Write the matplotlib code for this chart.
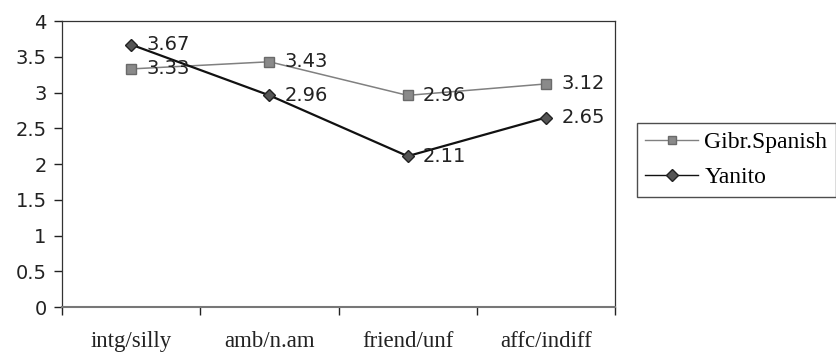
import matplotlib.pyplot as plt
from matplotlib.ticker import FixedLocator, NullFormatter

categories = ["intg/silly", "amb/n.am", "friend/unf", "affc/indiff"]
gibr_spanish = [3.33, 3.43, 2.96, 3.12]
yanito = [3.67, 2.96, 2.11, 2.65]
y_ticks = [0, 0.5, 1, 1.5, 2, 2.5, 3, 3.5, 4]

sans = "DejaVu Sans"
serif = "Liberation Serif"

fig = plt.figure(figsize=(8.37, 3.55), dpi=100)
ax = fig.add_axes([0.0741, 0.1352, 0.6607, 0.8056])

x = list(range(len(categories)))

ax.plot(x, gibr_spanish, color="#808080", linewidth=1.1, marker="s",
        markersize=6.5, markerfacecolor="#8a8a8a", markeredgecolor="#6a6a6a",
        label="Gibr.Spanish", zorder=2)
ax.plot(x, yanito, color="#111111", linewidth=1.6, marker="D",
        markersize=6.5, markerfacecolor="#555555", markeredgecolor="#222222",
        label="Yanito", zorder=3)

# data labels, right of each marker
for xi, v in zip(x, gibr_spanish):
    ax.annotate(f"{v:.2f}", (xi, v), xytext=(11, 0), textcoords="offset points",
                va="center", ha="left", fontsize=14, family=sans, color="#222222")
for xi, v in zip(x, yanito):
    ax.annotate(f"{v:.2f}", (xi, v), xytext=(11, 0), textcoords="offset points",
                va="center", ha="left", fontsize=14, family=sans, color="#222222")

ax.set_xlim(-0.5, len(categories) - 0.5)
ax.set_ylim(0, 4)

ax.set_yticks(y_ticks)
ax.set_yticklabels([f"{t:g}" for t in y_ticks], family=sans, fontsize=14)
ax.tick_params(axis="y", direction="out", length=6, width=1, pad=5, colors="#222222")

# category boundaries get the ticks, centres get the labels
ax.xaxis.set_major_locator(FixedLocator([i - 0.5 for i in range(len(categories) + 1)]))
ax.xaxis.set_major_formatter(NullFormatter())
ax.set_xticks(x, minor=True)
ax.set_xticklabels(categories, minor=True, family=serif, fontsize=16.5)
ax.tick_params(axis="x", which="major", direction="out", length=6, width=1, colors="#222222")
ax.tick_params(axis="x", which="minor", length=0, pad=17, colors="#222222")

for side in ["left", "right", "top"]:
    ax.spines[side].set_color("#333333")
    ax.spines[side].set_linewidth(0.9)
ax.spines["bottom"].set_color("#777777")
ax.spines["bottom"].set_linewidth(1.5)

leg = ax.legend(loc="upper left", bbox_to_anchor=(0.761, 0.6535),
                bbox_transform=fig.transFigure, prop={"family": serif, "size": 17},
                frameon=True, fancybox=False, borderpad=0.35, handlelength=2.25,
                labelspacing=0.6, handletextpad=0.25, borderaxespad=0,
                markerscale=0.9)
leg.get_frame().set_edgecolor("#222222")
leg.get_frame().set_linewidth(1.0)
for line in leg.get_lines():
    line.set_linewidth(1.0)

fig.savefig("out.png", dpi=100)
